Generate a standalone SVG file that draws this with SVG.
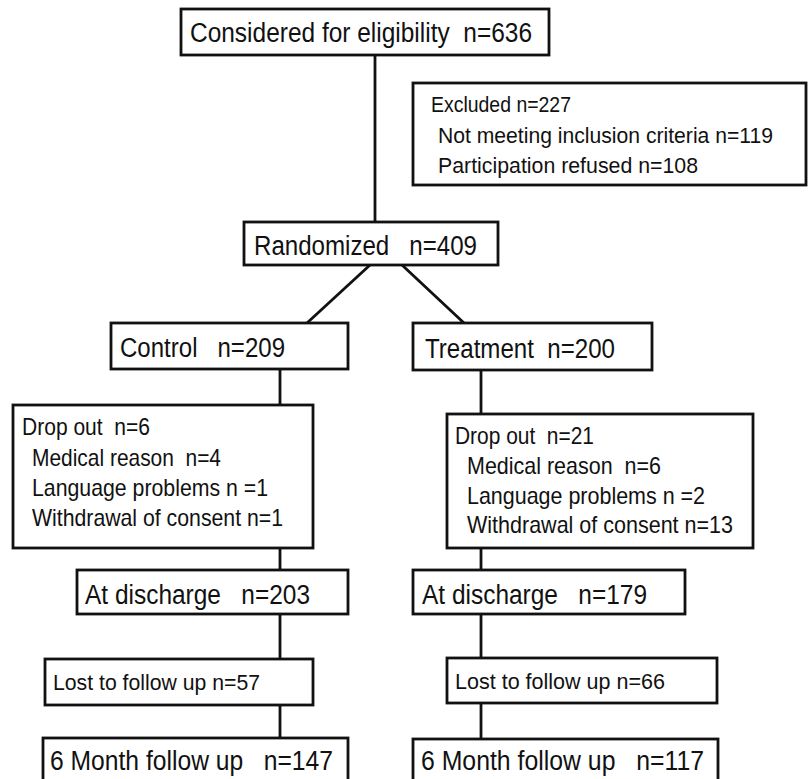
<svg xmlns="http://www.w3.org/2000/svg" width="808" height="779" viewBox="0 0 808 779">
<style>
.box{fill:#fff;stroke:#111;stroke-width:2.8}
.ln{stroke:#111;stroke-width:2.8;fill:none}
text{font-family:"Liberation Sans",Arial,Helvetica,sans-serif;fill:#111;white-space:pre}
.big{font-size:27px}
.mid{font-size:24px}
.sm{font-size:22.5px}
</style>
<rect width="808" height="779" fill="#fff"/>
<g id="connectors">
<line class="ln" x1="375" y1="55" x2="375" y2="222"/>
<line class="ln" x1="370" y1="265" x2="307" y2="323"/>
<line class="ln" x1="402" y1="265" x2="464" y2="323"/>
<line class="ln" x1="280" y1="369" x2="280" y2="405"/>
<line class="ln" x1="280" y1="548" x2="280" y2="570"/>
<line class="ln" x1="280" y1="614" x2="280" y2="659"/>
<line class="ln" x1="280" y1="705" x2="280" y2="738"/>
<line class="ln" x1="481" y1="370" x2="481" y2="414"/>
<line class="ln" x1="481" y1="548" x2="481" y2="570"/>
<line class="ln" x1="481" y1="614" x2="481" y2="658"/>
<line class="ln" x1="481" y1="703" x2="481" y2="739"/>
</g>
<g id="considered">
<rect class="box" x="181" y="9" width="368" height="46"/>
<text class="big" x="190" y="42" textLength="342" lengthAdjust="spacingAndGlyphs" xml:space="preserve">Considered for eligibility  n=636</text>
</g>
<g id="excluded">
<rect class="box" x="413" y="83" width="393" height="102"/>
<text class="sm" x="431" y="112" textLength="140" lengthAdjust="spacingAndGlyphs">Excluded n=227</text>
<text class="sm" x="438" y="143" textLength="335" lengthAdjust="spacingAndGlyphs">Not meeting inclusion criteria n=119</text>
<text class="sm" x="438" y="173" textLength="260" lengthAdjust="spacingAndGlyphs">Participation refused n=108</text>
</g>
<g id="randomized">
<rect class="box" x="244" y="222" width="254" height="43"/>
<text class="big" x="254" y="255" textLength="223" lengthAdjust="spacingAndGlyphs" xml:space="preserve">Randomized   n=409</text>
</g>
<g id="control">
<rect class="box" x="111" y="323" width="237" height="46"/>
<text class="big" x="120" y="357" textLength="165" lengthAdjust="spacingAndGlyphs" xml:space="preserve">Control   n=209</text>
</g>
<g id="treatment">
<rect class="box" x="413" y="323" width="239" height="47"/>
<text class="big" x="425" y="358" textLength="190" lengthAdjust="spacingAndGlyphs" xml:space="preserve">Treatment  n=200</text>
</g>
<g id="dropout-control">
<rect class="box" x="13" y="405" width="300" height="143"/>
<text class="mid" x="22" y="435" textLength="128" lengthAdjust="spacingAndGlyphs" xml:space="preserve">Drop out  n=6</text>
<text class="mid" x="32" y="466" textLength="189" lengthAdjust="spacingAndGlyphs" xml:space="preserve">Medical reason  n=4</text>
<text class="mid" x="32" y="496" textLength="236" lengthAdjust="spacingAndGlyphs">Language problems n =1</text>
<text class="mid" x="32" y="526" textLength="251" lengthAdjust="spacingAndGlyphs">Withdrawal of consent n=1</text>
</g>
<g id="dropout-treatment">
<rect class="box" x="447" y="414" width="306" height="134"/>
<text class="mid" x="455" y="444" textLength="139" lengthAdjust="spacingAndGlyphs" xml:space="preserve">Drop out  n=21</text>
<text class="mid" x="467" y="474" textLength="194" lengthAdjust="spacingAndGlyphs" xml:space="preserve">Medical reason  n=6</text>
<text class="mid" x="467" y="504" textLength="238" lengthAdjust="spacingAndGlyphs">Language problems n =2</text>
<text class="mid" x="467" y="533" textLength="266" lengthAdjust="spacingAndGlyphs">Withdrawal of consent n=13</text>
</g>
<g id="discharge-control">
<rect class="box" x="77" y="570" width="271" height="44"/>
<text class="big" x="85" y="604" textLength="225" lengthAdjust="spacingAndGlyphs" xml:space="preserve">At discharge   n=203</text>
</g>
<g id="discharge-treatment">
<rect class="box" x="413" y="570" width="272" height="44"/>
<text class="big" x="422" y="604" textLength="225" lengthAdjust="spacingAndGlyphs" xml:space="preserve">At discharge   n=179</text>
</g>
<g id="lost-control">
<rect class="box" x="45" y="659" width="268" height="46"/>
<text class="sm" x="53" y="690" textLength="207" lengthAdjust="spacingAndGlyphs">Lost to follow up n=57</text>
</g>
<g id="lost-treatment">
<rect class="box" x="447" y="658" width="270" height="45"/>
<text class="sm" x="455" y="689" textLength="210" lengthAdjust="spacingAndGlyphs">Lost to follow up n=66</text>
</g>
<g id="followup-control">
<rect class="box" x="43" y="738" width="305" height="60"/>
<text class="big" x="50" y="770" textLength="283" lengthAdjust="spacingAndGlyphs" xml:space="preserve">6 Month follow up   n=147</text>
</g>
<g id="followup-treatment">
<rect class="box" x="413" y="739" width="305" height="60"/>
<text class="big" x="421" y="770" textLength="283" lengthAdjust="spacingAndGlyphs" xml:space="preserve">6 Month follow up   n=117</text>
</g>
</svg>
